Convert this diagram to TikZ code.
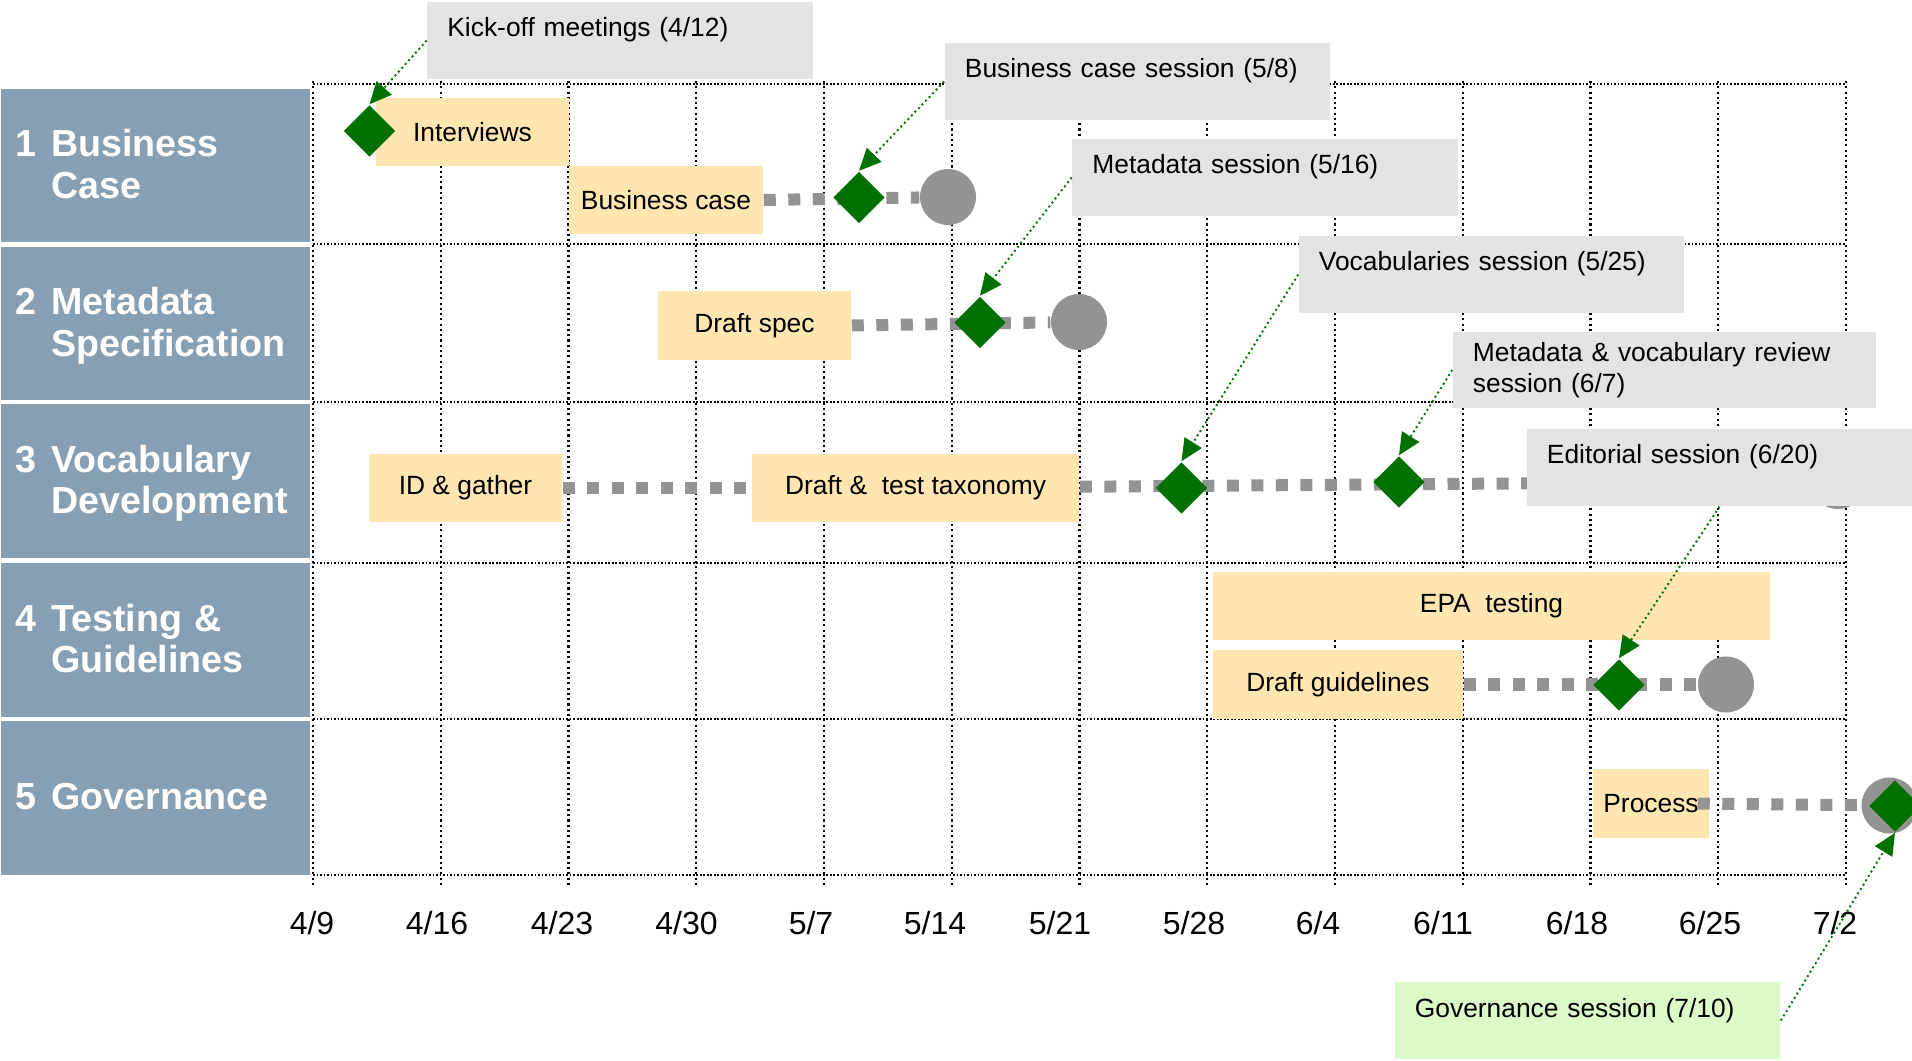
\documentclass[tikz,border=0pt]{standalone}
\usepackage{fontspec}
\setmainfont{Liberation Sans}
\usetikzlibrary{shapes.geometric, arrows.meta}

\definecolor{rowblue}{RGB}{135,159,178}
\definecolor{taskyellow}{RGB}{255,229,175}
\definecolor{notegray}{RGB}{227,227,227}
\definecolor{notegreen}{RGB}{220,250,200}
\definecolor{milegreen}{RGB}{0,112,0}
\definecolor{bargray}{RGB}{147,147,147}

% row title: number, then name lines, set a little low in the box
\newcommand{\rowtitle}[1]{\raisebox{-0.035cm}[\height][\depth]{\begin{tabular}{@{}l@{\hspace{0.145cm}}l@{}}#1\end{tabular}}}

\tikzset{
  rowbox/.style={fill=rowblue, minimum width=3.09cm, minimum height=1.53cm, text width=2.79cm, inner xsep=0.15cm, align=left, text=white, font=\fontsize{10.7}{11.8}\selectfont\bfseries},
  task/.style={fill=taskyellow, minimum height=0.68cm, inner sep=0, font=\fontsize{7.5}{9}\selectfont},
  note/.style={fill=notegray, inner xsep=0.2cm, inner ysep=0, align=left, font=\fontsize{7.5}{8.8}\selectfont},
  noteline/.style={note, text width=3.45cm, text height=0.35cm, text depth=0.42cm},
  milestone/.style={diamond, fill=milegreen, minimum width=0.52cm, minimum height=0.52cm, inner sep=0},
  endpt/.style={circle, fill=bargray, minimum size=0.56cm, inner sep=0},
  bar/.style={draw=bargray, line width=0.12cm, dash pattern=on 0.12cm off 0.125cm},
  pointer/.style={draw=milegreen, line width=0.55pt, dash pattern=on 0.55pt off 0.9pt, -{Triangle[length=0.22cm, width=0.2cm]}}
}

\begin{document}
\begin{tikzpicture}[x=0.01cm, y=-0.01cm]
\clip (0,0) rectangle (1912,1061);

% grid
\foreach \i in {0,...,12}
  \draw[line width=0.6pt, dash pattern=on 0.6pt off 0.9pt] ({313+127.75*\i},81) -- ({313+127.75*\i},885);
\foreach \y in {84,244,402,563,719,875}
  \draw[line width=0.5pt, dash pattern=on 0.5pt off 0.5pt] (313,\y) -- (1846,\y);

% work streams
\node[rowbox] (row1) at (155.5,165.5) {\rowtitle{1 & Business\\ & Case}};
\node[rowbox] (row2) at (155.5,323.5) {\rowtitle{2 & Metadata\\ & Specification}};
\node[rowbox] (row3) at (155.5,481) {\rowtitle{3 & Vocabulary\\ & Development}};
\node[rowbox] (row4) at (155.5,640) {\rowtitle{4 & Testing \&\\ & Guidelines}};
\node[rowbox] (row5) at (155.5,798) {\rowtitle{5 & Governance}};

% week labels
\foreach \x/\m/\d [count=\i] in {312/4/9, 437/4/16, 562/4/23, 686.5/4/30, 811/5/7, 935/5/14, 1060/5/21,
    1194/5/28, 1318/6/4, 1443/6/11, 1577/6/18, 1710/6/25, 1835/7/2}
  \node[font=\fontsize{9.1}{11}\selectfont] (week\i) at (\x,923) {\m/\d};

% tasks
\node[task, minimum width=1.93cm] (interviews) at (472.5,132) {Interviews};
\node[task, minimum width=1.94cm] (bizcase) at (666,200) {Business case};
\node[task, minimum width=1.93cm] (draftspec) at (754.5,325.5) {Draft spec};
\node[task, minimum width=1.93cm] (idgather) at (465.5,488) {ID \& gather};
\node[task, minimum width=3.27cm] (taxonomy) at (915.5,488) {Draft \&\ \ test taxonomy};
\node[task, minimum width=5.57cm] (epa) at (1491.5,606) {EPA\ \ testing};
\node[task, minimum width=2.50cm] (guide) at (1338,684.5) {Draft guidelines};
\node[task, minimum width=1.16cm] (process) at (1651,803.5) {Process};

% end points
\node[endpt] (c1) at (948,197) {};
\node[endpt] (c2) at (1079,322) {};
\node[endpt] (c3) at (1838,481) {};
\node[endpt] (c4) at (1726,684.5) {};
\node[endpt] (c5) at (1889.5,805.5) {};

\draw[bar] (bizcase.east) -- (c1);
\draw[bar] (draftspec.east) -- (c2);
\draw[bar] (idgather) -- (taxonomy);
\draw[bar] (taxonomy) -- (c3);
\draw[bar] (guide.east) -- (c4);
\draw[bar] ([xshift=-0.12cm]process.east) -- (c5);

% milestones
\node[milestone] (m1) at (369.5,131) {};
\node[milestone] (m2) at (859,197.5) {};
\node[milestone] (m3) at (980,322.5) {};
\node[milestone] (m4) at (1181.5,488) {};
\node[milestone] (m5) at (1399,482) {};
\node[milestone] (m6) at (1619,685) {};
\node[milestone] (m7) at (1895,806) {};

% sessions
\node[noteline] (kickoff) at (620,40.5) {Kick-off meetings (4/12)};
\node[noteline] (bizsess) at (1137.5,81.5) {Business case session (5/8)};
\node[noteline] (metasess) at (1265,177.5) {Metadata session (5/16)};
\node[noteline] (vocsess) at (1491.5,274.5) {Vocabularies session (5/25)};
\node[note, text width=3.83cm, minimum height=0.76cm] (review) at (1664.5,370) {Metadata \& vocabulary review\\session (6/7)};
\node[noteline] (editorial) at (1719.5,467.5) {Editorial session (6/20)};
\node[noteline, fill=notegreen] (govsess) at (1587.5,1020.5) {Governance session (7/10)};

\draw[pointer] (kickoff.west) -- (m1.north);
\draw[pointer] (bizsess.west) -- (m2.north);
\draw[pointer] (metasess.west) -- (m3.north);
\draw[pointer] (vocsess.west) -- (m4.north);
\draw[pointer] (review.west) -- (m5.north);
\draw[pointer] (editorial.south) -- (m6.north);
\draw[pointer] (govsess.east) -- (m7.south);
\end{tikzpicture}
\end{document}
